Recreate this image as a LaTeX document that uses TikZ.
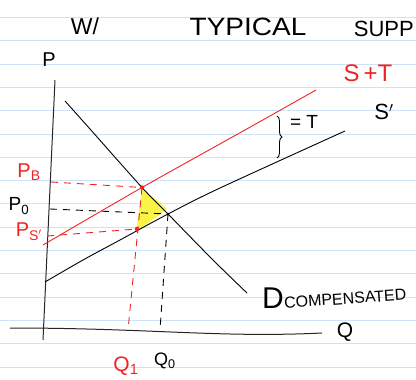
\documentclass[tikz,border=0pt]{standalone}
\usepackage{fontspec}
\setmainfont{Liberation Sans}
\usetikzlibrary{decorations.pathreplacing}

\definecolor{paperblue}{RGB}{205,228,248}
\definecolor{penred}{RGB}{240,35,35}
\definecolor{hilite}{RGB}{250,244,70}

\begin{document}
\begin{tikzpicture}[
			x=1pt, y=-1pt,
			rule/.style={draw=paperblue, line width=0.9pt},
			ax/.style={line width=1pt, black!85},
			crv/.style={line width=0.9pt},
			guide/.style={dash pattern=on 7pt off 6pt, line width=0.9pt},
			hand/.style={inner sep=0pt, font=\fontsize{#1}{#1}\selectfont},
			hand/.default=20,
			pt/.style={circle, fill, inner sep=0pt, minimum size=#1},
			pt/.default=4.5pt
		]
		\useasboundingbox (0,0) rectangle (416,380);

		% ruled paper
		\foreach \k in {0,...,15}
			\draw[rule] (0,{17.3+23.33*\k}) -- (416,{17.3+23.33*\k});

		\node[hand=23] (w) at (85,26) {W/};
		\node[hand=25, xscale=1.12] (typ) at (248,27) {TYPICAL};
		\node[hand=22, anchor=east] (supp) at (414,29) {SUPP};

		% axes
		\coordinate (ytop) at (55,80);
		\coordinate (ybot) at (43,340);
		\coordinate (xl) at (10,328);
		\coordinate (xr) at (322,333);
		\draw[ax] (ytop) -- (ybot);
		\draw[ax] (xl) .. controls (150,328) and (220,338) .. (xr);
		\node[hand=20] (plab) at (49,60) {P};
		\node[hand=21] (qlab) at (345,332) {Q};

		\fill[hilite] (142,188) -- (167,209) -- (136,232) -- cycle;

		% curves
		\draw[crv] plot[smooth] coordinates {(65,101) (90,129) (142,187.5) (168,214) (213,260) (247,293)};
		\draw[crv] plot[smooth] coordinates {(45,282) (83,260) (120,240) (168,214) (220,188) (345,131)};
		\draw[crv, penred] plot[smooth] coordinates {(43,245) (142,187.5) (245,130) (316,90)};

		\coordinate (eb) at (142,187.5);
		\coordinate (e0) at (168,214);
		\coordinate (es) at (137,229);
		\coordinate (pbax) at (51,182);
		\coordinate (p0ax) at (50,209);
		\coordinate (psax) at (47,236);
		\coordinate (q1ax) at (128,330);
		\coordinate (q0ax) at (160,330);

		\draw[guide, penred] (pbax) -- (eb);
		\draw[guide] (p0ax) -- (e0);
		\draw[guide, penred] (psax) -- (es);
		\draw[guide, penred] (eb) -- (q1ax);
		\draw[guide] (e0) -- (q0ax);

		\node[pt, penred] (dotb) at (eb) {};
		\node[pt, penred] (dots) at (es) {};
		\node[pt=3pt] (dot0) at (e0) {};

		% price and quantity labels
		\node[hand=20, penred] (pb) at (29,172) {P\textsubscript{B}};
		\node[hand=19] (p0) at (19,206) {P\textsubscript{0}};
		\node[hand=20, penred] (ps) at (29,232) {P\textsubscript{S$'$}};
		\node[hand=21, penred] (q1) at (126,366) {Q\textsubscript{1}};
		\node[hand=18] (q0) at (165,361) {Q\textsubscript{0}};

		% curve labels
		\node[hand=24, penred] (stl) at (368,73) {S\,+T};
		\node[hand=22] (sl) at (384,112) {S$'$};
		\draw[crv, decorate, decoration={brace, amplitude=5pt}] (277,116) -- (277,158);
		\node[hand=19] (eqt) at (304,122) {= T};
		\node[hand=30] (dl) at (273,298) {D};
		\node[hand=16, anchor=west, rotate=4] (comp) at (284,303) {COMPENSATED};
	\end{tikzpicture}
\end{document}
